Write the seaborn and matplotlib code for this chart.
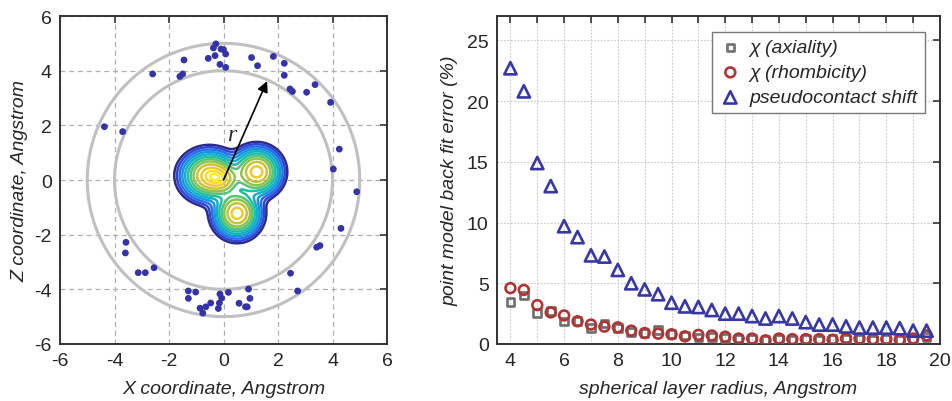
import numpy as np
import pandas as pd
import matplotlib
matplotlib.use("Agg")
import matplotlib.pyplot as plt
import seaborn as sns
from matplotlib.colors import LinearSegmentedColormap
from matplotlib.ticker import MultipleLocator

# ---------------- left panel data ----------------
scatter_x = [-0.28, -0.37, -0.09, 0.00, 0.08, -0.31, -0.56, -0.13, 0.08, -1.45,
             -2.60, -1.60, -1.50, 1.03, 1.25, 1.83, 2.23, 2.23, 2.44, 2.53,
             3.05, 3.36, 3.93, -4.37, -3.70, 4.25, 4.03, 4.89,
             4.31, 3.42, 3.54, 2.46, 2.72, 0.92, 0.97, 0.81, 0.87, 0.57,
             0.18, -0.13, -0.07, -0.15, -0.19, -0.47, -0.65, -0.86, -0.76, -1.02,
             -1.29, -1.29, -2.55, -3.13, -2.87, -3.58, -3.60]
scatter_z = [4.98, 4.83, 4.79, 4.77, 4.61, 4.55, 4.45, 4.23, 4.12, 4.39,
             3.88, 3.79, 3.88, 4.48, 4.18, 4.52, 4.27, 3.83, 3.33, 3.24,
             3.21, 3.49, 2.84, 1.95, 1.77, 1.13, 0.40, -0.43,
             -1.77, -2.46, -2.40, -3.41, -4.06, -3.99, -4.33, -4.64, -4.64, -4.51,
             -4.11, -4.17, -4.32, -4.50, -4.70, -4.50, -4.64, -4.69, -4.87, -4.10,
             -4.06, -4.33, -3.21, -3.39, -3.39, -2.28, -2.67]
shell_radii = [4.0, 5.0]
# density lobes (centre, width, weight) of the contoured distribution
blob_x = [-0.52, -0.02, 1.22, 0.50]
blob_z = [0.16, 0.02, 0.30, -1.22]
blob_sx = [0.48, 0.34, 0.42, 0.40]
blob_sz = [0.42, 0.30, 0.41, 0.41]
blob_w = [1.0, 0.45, 0.97, 0.97]
# contour levels expressed as effective distance from the density maximum
contour_g = [2.75, 2.55, 2.35, 2.15, 1.95, 1.75, 1.55, 1.35, 1.10, 0.82, 0.55, 0.28]
arrow_tip = (1.6, 3.62)
left_ticks = [-6, -4, -2, 0, 2, 4, 6]

# ---------------- right panel data ----------------
radius = [4.0, 4.5, 5.0, 5.5, 6.0, 6.5, 7.0, 7.5, 8.0, 8.5, 9.0, 9.5, 10.0, 10.5,
          11.0, 11.5, 12.0, 12.5, 13.0, 13.5, 14.0, 14.5, 15.0, 15.5, 16.0, 16.5,
          17.0, 17.5, 18.0, 18.5, 19.0, 19.5]
axiality = [3.45, 4.0, 2.55, 2.7, 1.85, 1.9, 1.3, 1.7, 1.3, 1.0, 0.9, 1.15, 0.8, 0.7,
            0.55, 0.6, 0.5, 0.45, 0.4, 0.35, 0.4, 0.35, 0.4, 0.35, 0.4, 0.45,
            0.4, 0.35, 0.4, 0.35, 0.4, 0.6]
rhombicity = [4.6, 4.45, 3.2, 2.6, 2.35, 1.87, 1.6, 1.43, 1.37, 1.1, 0.9, 0.85, 0.8, 0.63,
              0.75, 0.7, 0.6, 0.45, 0.45, 0.3, 0.45, 0.4, 0.4, 0.4, 0.35, 0.45,
              0.45, 0.4, 0.4, 0.35, 0.45, 0.7]
pcs = [22.7, 20.8, 14.9, 13.0, 9.7, 8.8, 7.3, 7.2, 6.1, 5.0, 4.5, 4.1, 3.4, 3.1,
       3.05, 2.8, 2.5, 2.5, 2.3, 2.1, 2.3, 2.1, 1.8, 1.6, 1.6, 1.45,
       1.35, 1.35, 1.35, 1.3, 1.1, 1.1]
series_names = ["χ (axiality)", "χ (rhombicity)", "pseudocontact shift"]

sns.set_style("white")
plt.rcParams["font.family"] = ["Liberation Sans", "DejaVu Sans"]
plt.rcParams["axes.unicode_minus"] = False
plt.rcParams["axes.edgecolor"] = "#333333"

fig = plt.figure(figsize=(9.52, 4.02), dpi=100)
W, H = 952.0, 402.0
axL = fig.add_axes([60 / W, (H - 345) / H, 327 / W, 328 / H])
axR = fig.add_axes([497 / W, (H - 345) / H, 443 / W, 328 / H])

# ---------- left panel ----------
parula = LinearSegmentedColormap.from_list("parula", [
    (0.17, 0.16, 0.55), (0.20, 0.30, 0.90), (0.12, 0.52, 0.92), (0.05, 0.67, 0.82),
    (0.10, 0.74, 0.68), (0.35, 0.78, 0.45), (0.65, 0.76, 0.25), (0.90, 0.76, 0.20),
    (0.98, 0.85, 0.15), (0.98, 0.95, 0.08)])
gx, gz = np.meshgrid(np.linspace(-3, 3.5, 500), np.linspace(-3.5, 3, 500))
dens = np.zeros_like(gx)
for cx, cz, sx, sz, w in zip(blob_x, blob_z, blob_sx, blob_sz, blob_w):
    dens += w * np.exp(-((gx - cx) ** 2 / (2 * sx ** 2) + (gz - cz) ** 2 / (2 * sz ** 2)))
dens /= dens.max()
levels = np.exp(-np.array(contour_g) ** 2 / 2)
colors = [parula(v) for v in np.linspace(0, 1, len(levels))]
axL.contour(gx, gz, dens, levels=levels, colors=colors, linewidths=1.8, zorder=3)

theta = np.linspace(0, 2 * np.pi, 400)
for r in shell_radii:
    axL.plot(r * np.cos(theta), r * np.sin(theta), color="#c0c0c0", lw=2.2, zorder=2)

sns.scatterplot(x=scatter_x, y=scatter_z, ax=axL, color="#3434a6", s=24,
                edgecolor="none", zorder=4, legend=False)

axL.annotate("", xy=arrow_tip, xytext=(0, 0),
             arrowprops=dict(arrowstyle="-|>", color="black", lw=1.2,
                             mutation_scale=16, shrinkA=0, shrinkB=0), zorder=5)
axL.text(0.3, 1.65, "r", family="Liberation Serif", style="italic", fontsize=17,
         ha="center", va="center", zorder=5)

axL.set_xlim(-6, 6)
axL.set_ylim(-6, 6)
axL.set_xticks(left_ticks)
axL.set_yticks(left_ticks)
axL.grid(True, color="#b0b0b0", ls=(0, (4, 3)), lw=0.9)
axL.set_axisbelow(True)
axL.set_xlabel("X coordinate, Angstrom", fontsize=14, style="italic", labelpad=8)
axL.set_ylabel("Z coordinate, Angstrom", fontsize=14, style="italic", labelpad=4)

# ---------- right panel ----------
df = pd.DataFrame({"radius": radius * 3,
                   "error": axiality + rhombicity + pcs,
                   "series": [series_names[0]] * len(radius) + [series_names[1]] * len(radius)
                             + [series_names[2]] * len(radius)})
styles = {series_names[0]: ("s", "#6e6e6e", 30),
          series_names[1]: ("o", "#b03434", 50),
          series_names[2]: ("^", "#3838a4", 78)}
for name in series_names:
    m, c, s = styles[name]
    sub = df[df["series"] == name]
    sns.scatterplot(data=sub, x="radius", y="error", ax=axR, marker=m, s=s,
                    facecolor="none", edgecolor=c, linewidth=1.9, label=name, zorder=3)

axR.set_xlim(3.5, 20)
axR.set_ylim(0, 27)
axR.xaxis.set_major_locator(MultipleLocator(2))
axR.xaxis.set_minor_locator(MultipleLocator(1))
axR.yaxis.set_major_locator(MultipleLocator(5))
axR.grid(True, which="both", axis="x", color="#c8c8c8", ls=(0, (1.5, 1.5)), lw=0.8)
axR.grid(True, which="major", axis="y", color="#c8c8c8", ls=(0, (1.5, 1.5)), lw=0.8)
axR.set_axisbelow(True)
axR.set_xlabel("spherical layer radius, Angstrom", fontsize=14, style="italic", labelpad=8)
axR.set_ylabel("point model back fit error (%)", fontsize=14, style="italic", labelpad=6)

leg = axR.legend(loc="upper left", bbox_to_anchor=(0.485, 0.951), borderaxespad=0,
                 fontsize=14, frameon=True, fancybox=False, edgecolor="#777777",
                 framealpha=1, handletextpad=0.4, borderpad=0.35, labelspacing=0.38,
                 handlelength=1.2)
leg.get_frame().set_linewidth(1.0)
for t in leg.get_texts():
    t.set_fontstyle("italic")

for ax in (axL, axR):
    for sp in ax.spines.values():
        sp.set_linewidth(1.4)
        sp.set_color("#333333")
    ax.tick_params(which="both", direction="in", top=True, right=True, length=5,
                   width=1.2, labelsize=14, pad=6, color="#333333")
axR.tick_params(which="minor", labelbottom=False)

fig.savefig("out.png", dpi=100)
